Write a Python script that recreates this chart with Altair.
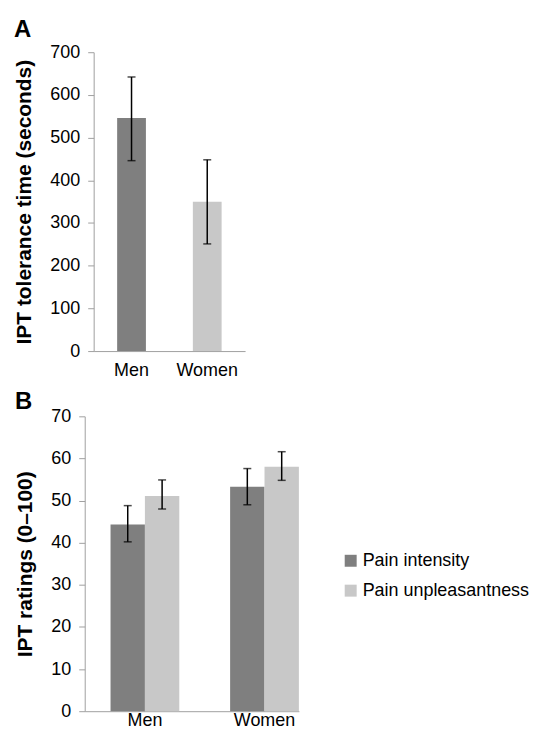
import altair as alt
import pandas as pd

# ---- data ----
sexes = ["Men", "Women"]
tolerance = [546, 350]
tol_low = [446, 251]
tol_high = [642, 448]

series = ["Pain intensity", "Pain unpleasantness"]
rating_sex = ["Men", "Men", "Women", "Women"]
rating_series = ["Pain intensity", "Pain unpleasantness", "Pain intensity", "Pain unpleasantness"]
ratings = [44.3, 51.1, 53.3, 58.0]
rating_low = [40.2, 48.0, 49.0, 54.8]
rating_high = [48.8, 54.9, 57.6, 61.6]

DARK = "#7f7f7f"
LIGHT = "#c8c8c8"
AX = "#a0a0a0"
FONT = "Liberation Sans"
SHIFT = 9  # panel B axis sits a little left of panel A axis

dfA = pd.DataFrame({"sex": sexes, "value": tolerance, "low": tol_low, "high": tol_high})
dfB = pd.DataFrame({"sex": rating_sex, "series": rating_series, "value": ratings,
                    "low": rating_low, "high": rating_high})

# ---- panel A ----
xA = alt.X("sex:N", sort=sexes,
           scale=alt.Scale(paddingInner=0.62, paddingOuter=0.31),
           axis=alt.Axis(title=None, labelAngle=0, ticks=False, tickSize=0, labelPadding=11,
                         labelFontSize=18, domainColor=AX))
yAxA = alt.Axis(title="IPT tolerance time (seconds)", values=list(range(0, 701, 100)),
                tickSize=6, labelPadding=8, titlePadding=15, labelFontSize=18,
                titleFontSize=21, domainColor=AX, tickColor=AX)
yscA = alt.Scale(domain=[0, 700])

baseA = alt.Chart(dfA)
barsA = baseA.mark_bar().encode(
    x=xA, y=alt.Y("value:Q", scale=yscA, axis=yAxA),
    color=alt.Color("sex:N", scale=alt.Scale(domain=sexes, range=[DARK, LIGHT]), legend=None))
ruleA = baseA.mark_rule(color="black", strokeWidth=1.5).encode(
    x=xA, y=alt.Y("low:Q", scale=yscA, axis=yAxA), y2="high:Q")
capLoA = baseA.mark_tick(color="black", thickness=1.5, size=8).encode(
    x=xA, y=alt.Y("low:Q", scale=yscA, axis=yAxA))
capHiA = baseA.mark_tick(color="black", thickness=1.5, size=8).encode(
    x=xA, y=alt.Y("high:Q", scale=yscA, axis=yAxA))

chartA = alt.layer(barsA, ruleA, capLoA, capHiA).properties(
    width=152, height=300,
    title=alt.Title("A", anchor="start", frame="bounds", fontSize=24, fontWeight="bold",
                    offset=-17.5, baseline="alphabetic", color="black"))

# ---- panel B ----
WB = 215
xB = alt.X("sex:N", sort=sexes,
           scale=alt.Scale(paddingInner=0.425, paddingOuter=0.108, align=1,
                           range=[-SHIFT, WB - SHIFT]),
           axis=alt.Axis(title=None, labelAngle=0, ticks=False, tickSize=0, labelPadding=0,
                         labelFontSize=18, domainColor=AX))
xoB = alt.XOffset("series:N", sort=series, scale=alt.Scale(paddingInner=0, paddingOuter=0))
yAxB = alt.Axis(title="IPT ratings (0\u2013100)", values=list(range(0, 71, 10)),
                tickSize=6, labelPadding=8, titlePadding=15, labelFontSize=18,
                titleFontSize=21, domainColor=AX, tickColor=AX, offset=SHIFT)
yscB = alt.Scale(domain=[0, 70])

baseB = alt.Chart(dfB)
barsB = baseB.mark_bar().encode(
    x=xB, xOffset=xoB, y=alt.Y("value:Q", scale=yscB, axis=yAxB),
    color=alt.Color("series:N", scale=alt.Scale(domain=series, range=[DARK, LIGHT]),
                    legend=alt.Legend(title=None, orient="none", legendX=249, legendY=136,
                                      symbolType="square", symbolSize=144, labelFontSize=18,
                                      rowPadding=12, labelOffset=3, symbolStrokeWidth=0,
                                      labelColor="black", labelLimit=300)))
ruleB = baseB.mark_rule(color="black", strokeWidth=1.5).encode(
    x=xB, xOffset=xoB, y=alt.Y("low:Q", scale=yscB, axis=yAxB), y2="high:Q")
capLoB = baseB.mark_tick(color="black", thickness=1.5, size=8).encode(
    x=xB, xOffset=xoB, y=alt.Y("low:Q", scale=yscB, axis=yAxB))
capHiB = baseB.mark_tick(color="black", thickness=1.5, size=8).encode(
    x=xB, xOffset=xoB, y=alt.Y("high:Q", scale=yscB, axis=yAxB))

chartB = alt.layer(barsB, ruleB, capLoB, capHiB).properties(
    width=WB - SHIFT, height=296,
    title=alt.Title("B", anchor="start", frame="bounds", fontSize=24, fontWeight="bold",
                    offset=-26, baseline="alphabetic", color="black"))

chart = alt.vconcat(chartA, chartB, spacing=10.5).resolve_scale(
    color="independent").resolve_legend(color="independent").properties(
    padding={"left": 5, "top": 8, "right": 0, "bottom": 0}
).configure_view(stroke=None).configure_axis(
    grid=False, labelFont=FONT, titleFont=FONT, labelColor="black", titleColor="black",
    titleFontWeight="bold"
).configure_legend(labelFont=FONT).configure_title(font=FONT)

chart.save("out.html", embed_options={"renderer": "svg", "actions": False})
